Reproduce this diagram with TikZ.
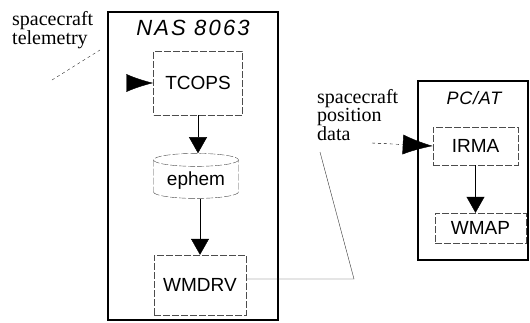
\documentclass[tikz,border=0pt]{standalone}
\usepackage{fontspec}
\setmainfont{Liberation Serif}
\setsansfont{Liberation Sans}
\usetikzlibrary{arrows.meta,shapes.geometric}
\tikzset{
  machine/.style={draw, line width=1.6pt, inner sep=0pt},
  title/.style={font=\sffamily\itshape\fontsize{22}{24}\selectfont\addfontfeature{LetterSpace=10}},
  box/.style={draw=black!70, thin, dash pattern=on 7pt off 2pt, font=\sffamily\fontsize{19}{20}\selectfont},
  note/.style={font=\fontsize{20}{16}\selectfont, align=left, inner sep=0pt},
  leader/.style={draw=black!80, thin},
  flow/.style={-{Triangle[length=16pt,width=18pt]}, thin},
  feed/.style={-{Latex[length=27pt,width=18pt]}, thin}
}
\begin{document}
\begin{tikzpicture}[x=1pt, y=-1pt]
  \useasboundingbox (0,0) rectangle (530,322);

  \node (nas) [machine, minimum width=170pt, minimum height=308pt] at (193,166) {};
  \node (nastitle) [title] at (193,28) {NAS 8063};
  \node (tcops) [box, minimum width=89pt, minimum height=64pt] at (198,83) {TCOPS};
  \node (ephem) [box, cylinder, shape border rotate=90, aspect=0.2, minimum width=85pt, minimum height=45pt] at (196,180.5) {ephem};
  \node (wmdrv) [box, minimum width=92pt, minimum height=60pt] at (200,285) {WMDRV};

  \node (pcat) [machine, minimum width=110pt, minimum height=179pt] at (473,170.5) {};
  \node (pctitle) [title, font=\sffamily\itshape\fontsize{18}{20}\selectfont\addfontfeature{LetterSpace=4}] at (474,98) {PC/AT};
  \node (irma) [box, minimum width=85pt, minimum height=38pt] at (475.5,146) {IRMA};
  \node (wmap) [box, minimum width=91pt, minimum height=30pt] at (480.5,228) {WMAP};

  \node (telnote) [note, anchor=north west] at (12,11) {spacecraft\\telemetry};
  \node (posnote) [note, anchor=north west] at (317,89) {spacecraft\\position\\data};

  \coordinate (telin) at (127,83);
  \coordinate (telfrom) at (52,80);
  \coordinate (telto) at (100,50);
  \coordinate (posbend) at (354,279);
  \coordinate (postip) at (320,152);
  \coordinate (posfrom) at (372,143);

  \draw [leader, dashed] (telfrom) -- (telto);
  \draw [feed] (telin) -- (tcops.west);
  \draw [flow] (tcops.south) -- (tcops.south |- ephem.north);
  \draw [flow] (wmdrv.north |- ephem.south) -- (wmdrv.north);
  \draw [leader] (wmdrv.east |- posbend) -- (posbend) -- (postip);
  \draw [feed, dashed, -{Latex[length=30pt,width=20pt]}] (posfrom) -- (irma.west);
  \draw [flow] (irma.south) -- (irma.south |- wmap.north);
\end{tikzpicture}
\end{document}
